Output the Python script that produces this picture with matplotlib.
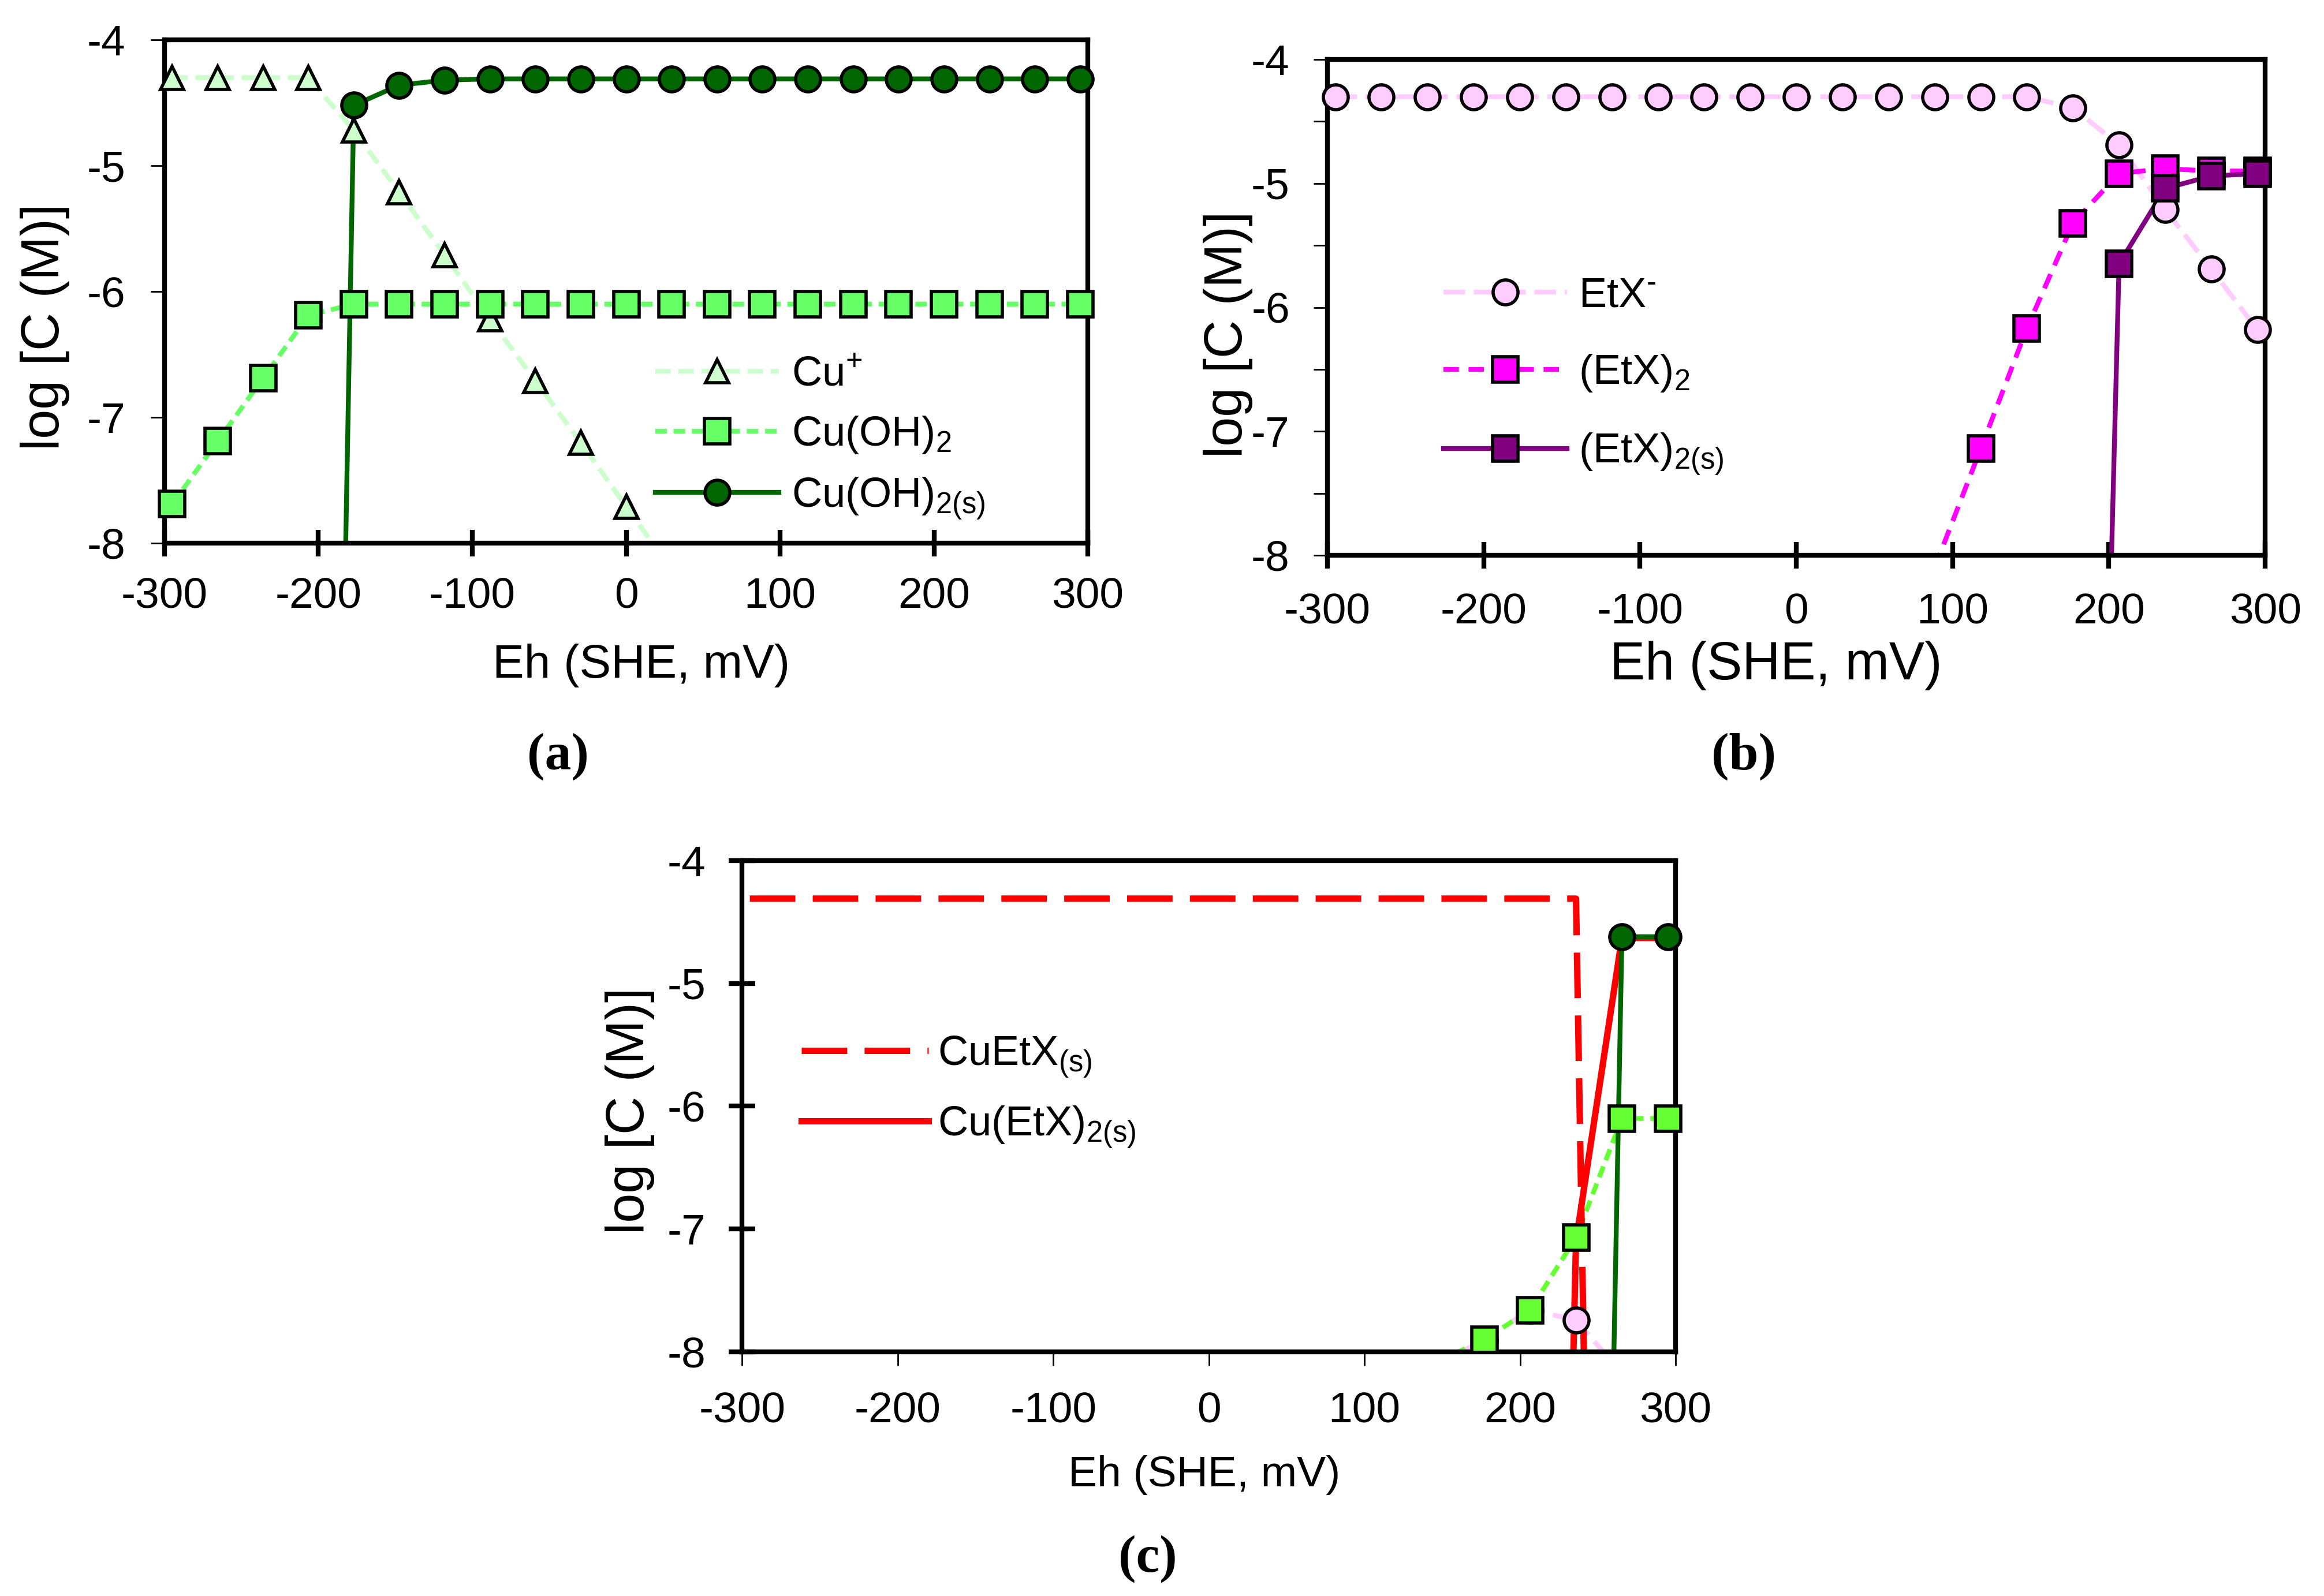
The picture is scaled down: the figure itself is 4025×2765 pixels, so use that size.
import numpy as np
import matplotlib
matplotlib.use("Agg")
import matplotlib.pyplot as plt
from matplotlib.lines import Line2D
from matplotlib.ticker import MultipleLocator

plt.rcParams['font.family'] = ['Liberation Sans', 'DejaVu Sans']
plt.rcParams['mathtext.fontset'] = 'custom'
plt.rcParams['mathtext.rm'] = 'Liberation Sans'
plt.rcParams['mathtext.it'] = 'Liberation Sans:italic'
plt.rcParams['mathtext.bf'] = 'Liberation Sans:bold'
plt.rcParams['axes.unicode_minus'] = False

nan = np.nan

# Eh grid (mV, SHE)
eh = [-295.0, -265.5, -236.0, -206.5, -177.0, -147.5, -118.0, -88.5, -59.0, -29.5,
      0.0, 29.5, 59.0, 88.5, 118.0, 147.5, 177.0, 206.5, 236.0, 265.5, 295.0]

# panel (a)
cu_plus = [-4.30, -4.30, -4.30, -4.30, -4.72, -5.21, -5.71, -6.22, -6.71, -7.20,
           -7.71, -8.21, nan, nan, nan, nan, nan, nan, nan, nan, nan]
cu_oh2 = [-7.69, -7.19, -6.69, -6.19, -6.10, -6.10, -6.10, -6.10, -6.10, -6.10,
          -6.10, -6.10, -6.10, -6.10, -6.10, -6.10, -6.10, -6.10, -6.10, -6.10, -6.10]
cu_oh2_s = [nan, nan, nan, -24.0, -4.52, -4.36, -4.32, -4.31, -4.31, -4.31,
            -4.31, -4.31, -4.31, -4.31, -4.31, -4.31, -4.31, -4.31, -4.31, -4.31, -4.31]

# panel (b)
etx = [-4.30, -4.30, -4.30, -4.30, -4.30, -4.30, -4.30, -4.30, -4.30, -4.30,
       -4.30, -4.30, -4.30, -4.30, -4.30, -4.30, -4.39, -4.69, -5.21, -5.69, -6.18]
etx2 = [nan, nan, nan, nan, nan, nan, nan, nan, nan, nan,
        nan, nan, nan, -8.10, -7.14, -6.17, -5.32, -4.92, -4.88, -4.90, -4.90]
etx2_s = [nan, nan, nan, nan, nan, nan, nan, nan, nan, nan,
          nan, nan, nan, nan, nan, nan, -20.0, -5.65, -5.04, -4.94, -4.92]

# panel (c)
cuetx_s = [-4.31, -4.31, -4.31, -4.31, -4.31, -4.31, -4.31, -4.31, -4.31, -4.31,
           -4.31, -4.31, -4.31, -4.31, -4.31, -4.31, -4.31, -4.31, -4.31, -26.0, nan]
cu_etx2_s = [nan, nan, nan, nan, nan, nan, nan, nan, nan, nan,
             nan, nan, nan, nan, nan, nan, nan, -23.0, -7.10, -4.63, -4.63]
cu_oh2_s_c = [nan, nan, nan, nan, nan, nan, nan, nan, nan, nan,
              nan, nan, nan, nan, nan, nan, nan, nan, -24.0, -4.62, -4.62]
cu_oh2_c = [nan, nan, nan, nan, nan, nan, nan, nan, nan, nan,
            nan, nan, nan, nan, nan, -8.08, -7.90, -7.66, -7.07, -6.10, -6.10]
etx_c = [nan, nan, nan, nan, nan, nan, nan, nan, nan, nan,
         nan, nan, nan, nan, nan, -8.10, -7.90, -7.66, -7.74, -8.18, nan]

x_ticks = [-300, -200, -100, 0, 100, 200, 300]
y_ticks = [-8, -7, -6, -5, -4]


def series(ax, y, color, ls, lw, dashes=None, marker=None, mfc=None, ms=31):
    x = np.array(eh)
    y = np.array(y, dtype=float)
    kw = dict(color=color, lw=lw, ls=ls, zorder=2)
    if dashes is not None:
        kw['dashes'] = dashes
    ax.plot(x, y, **kw)
    if marker is not None:
        # markers sit over the frame, only for points inside the range
        ym = np.where((y >= -8.05) & (y <= -3.95), y, nan)
        ax.plot(x, ym, ls='none', marker=marker, ms=ms, mfc=mfc, mec='black',
                mew=4, clip_on=False, zorder=3)
    hkw = dict(color=color, lw=lw, ls=ls)
    if dashes is not None:
        hkw['dashes'] = dashes
    if marker is not None:
        hkw.update(marker=marker, ms=ms, mfc=mfc, mec='black', mew=4)
    return Line2D([], [], **hkw)


def frame(ax):
    ax.set_xlim(-300, 300)
    ax.set_ylim(-8, -4)
    ax.set_xticks(x_ticks)
    ax.set_yticks(y_ticks)
    for s in ax.spines.values():
        s.set_linewidth(6)


fig = plt.figure(figsize=(40.25, 27.65), dpi=100)

# ---------------- (a)
ax = fig.add_axes([0.0708, 0.6597, 0.3973, 0.3153])
frame(ax)
h1 = series(ax, cu_plus, '#ccffcc', '--', 6, (3.2, 1.6), '^', '#ccffcc', ms=29.5)
h2 = series(ax, cu_oh2, '#66ff66', '--', 6, (2.4, 1.4), 's', '#66ff66')
h3 = series(ax, cu_oh2_s, '#006600', '-', 6, None, 'o', '#006600')
ax.tick_params(axis='x', direction='inout', length=33, width=6, pad=26, labelsize=54)
ax.tick_params(axis='y', direction='out', length=17, width=2, pad=32, labelsize=54)
ax.set_xlabel('Eh (SHE, mV)', fontsize=59)
ax.xaxis.set_label_coords(0.516, -0.200)
ax.set_ylabel('log [C (M)]', fontsize=66)
ax.yaxis.set_label_coords(-0.1026, 0.430)
ax.legend([h1, h2, h3], ['Cu$^{+}$', 'Cu(OH)$_{2}$', 'Cu(OH)$_{\\mathrm{2(s)}}$'],
          loc='center left', bbox_to_anchor=(0.5316, 0.208), frameon=False,
          fontsize=52, handlelength=2.96, handletextpad=0.3, labelspacing=0.48,
          borderpad=0, borderaxespad=0)

# ---------------- (b)
ax = fig.add_axes([0.5712, 0.6521, 0.4035, 0.3106])
frame(ax)
h1 = series(ax, etx, '#ffccff', '--', 6, (4.5, 1.8), 'o', '#ffccff')
h2 = series(ax, etx2, '#ff00ff', '--', 6, (3.2, 2.0), 's', '#ff00ff')
h3 = series(ax, etx2_s, '#800080', '-', 6, None, 's', '#800080')
ax.yaxis.set_minor_locator(MultipleLocator(0.5))
ax.tick_params(axis='x', direction='inout', length=33, width=6, pad=30, labelsize=54)
ax.tick_params(axis='y', which='both', direction='out', length=17, width=2, pad=30,
               labelsize=54)
ax.set_xlabel('Eh (SHE, mV)', fontsize=66)
ax.xaxis.set_label_coords(0.478, -0.172)
ax.set_ylabel('log [C (M)]', fontsize=66)
ax.yaxis.set_label_coords(-0.0794, 0.446)
ax.legend([h1, h2, h3], ['EtX$^{\\text{-}}$', '(EtX)$_{2}$', '(EtX)$_{\\mathrm{2(s)}}$'],
          loc='center left', bbox_to_anchor=(0.124, 0.360), frameon=False,
          fontsize=52, handlelength=2.96, handletextpad=0.27, labelspacing=0.9,
          borderpad=0, borderaxespad=0)

# ---------------- (c)
ax = fig.add_axes([0.3193, 0.1530, 0.4017, 0.3078])
frame(ax)
series(ax, etx_c, '#ffccff', '--', 6, (3.6, 1.8), 'o', '#ffccff')
series(ax, cu_oh2_c, '#66ff33', '--', 6, (2.4, 1.4), 's', '#66ff33')
h1 = series(ax, cuetx_s, '#ff0000', '--', 8, (7.1, 2.7))
h2 = series(ax, cu_etx2_s, '#ff0000', '-', 8)
series(ax, cu_oh2_s_c, '#006600', '-', 6, None, 'o', '#006600')
ax.tick_params(axis='x', direction='out', length=17, width=2, pad=32, labelsize=54)
ax.tick_params(axis='y', direction='inout', length=33, width=6, pad=29, labelsize=54)
ax.set_xlabel('Eh (SHE, mV)', fontsize=54)
ax.xaxis.set_label_coords(0.495, -0.210)
ax.set_ylabel('log [C (M)]', fontsize=66)
ax.yaxis.set_label_coords(-0.0934, 0.491)
ax.legend([h1, h2], ['CuEtX$_{\\mathrm{(s)}}$', 'Cu(EtX)$_{\\mathrm{2(s)}}$'],
          loc='center left', bbox_to_anchor=(0.0637, 0.529), frameon=False,
          fontsize=52, handlelength=3.05, handletextpad=0.22, labelspacing=0.6,
          borderpad=0, borderaxespad=0)

# panel letters
fig.text(966 / 4025, 1 - 1311 / 2765, '(a)', ha='center', va='center', fontsize=66,
         fontweight='bold', family='Liberation Serif')
fig.text(3020 / 4025, 1 - 1311 / 2765, '(b)', ha='center', va='center', fontsize=66,
         fontweight='bold', family='Liberation Serif')
fig.text(1988 / 4025, 1 - 2701 / 2765, '(c)', ha='center', va='center', fontsize=66,
         fontweight='bold', family='Liberation Serif')

fig.savefig('out.png', dpi=100)
